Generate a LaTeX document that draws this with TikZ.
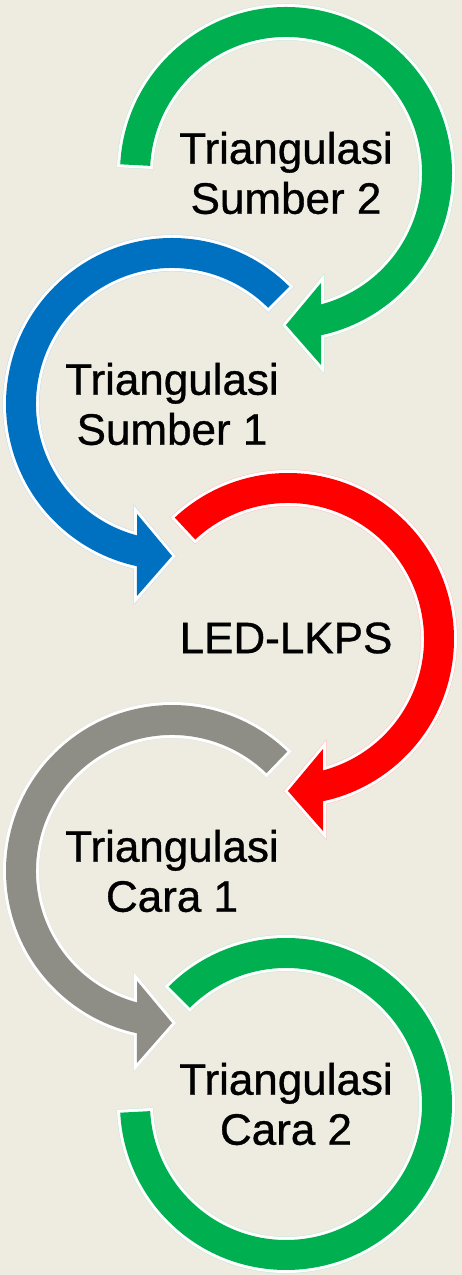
\documentclass[tikz,border=0pt]{standalone}
\usepackage{xcolor}
\usepackage{fontspec}
\setmainfont{Liberation Sans}
\newfontfamily\lblfont[FakeBold=0.8]{Liberation Sans}
\usepackage{tikz}
\definecolor{bgtan}{HTML}{EEECE1}
\definecolor{srcgreen}{HTML}{00B050}
\definecolor{srcblue}{HTML}{0070C0}
\definecolor{ledred}{HTML}{FF0000}
\definecolor{waygray}{HTML}{8E8E87}

\begin{document}
\begin{tikzpicture}[
  x=1pt, y=1pt,
  blockarc/.style={
    fill=#1,
    preaction={draw=#1!25, line width=7pt, line join=miter},
    preaction={draw=white, line width=6pt, line join=miter}},
  headarc/.style={
    insert path={
      (#1:\rout) arc[start angle=#1, end angle=-77.8, radius=\rout]
      -- (35,-192) -- (0,-152) -- (35,-110)
      -- (-75.1:\rin) arc[start angle=-75.1, end angle=#1, radius=\rin]
      -- cycle}},
  lbl/.style={
    align=center,
    inner sep=0pt,
    font=\lblfont\fontsize{44}{50}\selectfont},
]

  \def\rout{166}%
  \def\rin{136}%
  \def\colright{286}%
  \def\colleft{172}%

  \fill[bgtan] (0,0) rectangle (462,1275);
  \useasboundingbox (0,0) rectangle (462,1275);

  % centres of the rings, top to bottom
  \coordinate (ring1) at (\colright, 1102);
  \coordinate (ring2) at (\colleft, 871);
  \coordinate (ring3) at (\colright+2, 636);
  \coordinate (ring4) at (\colleft, 404);
  \coordinate (ring5) at (\colright, 171);

  \begin{scope}[shift={(ring1)}]
    \path[blockarc=srcgreen, headarc=177];
  \end{scope}
  \begin{scope}[shift={(ring2)}, xscale=-1]
    \path[blockarc=srcblue, headarc=135];
  \end{scope}
  \begin{scope}[shift={(ring3)}]
    \path[blockarc=ledred, headarc=133];
  \end{scope}
  \begin{scope}[shift={(ring4)}, xscale=-1]
    \path[blockarc=waygray, headarc=134];
  \end{scope}

  % last ring ends without a head
  \begin{scope}[shift={(ring5)}]
    \path[blockarc=srcgreen]
      (135:\rout) arc[start angle=135, end angle=-177, radius=\rout]
      -- (-177:\rin) arc[start angle=-177, end angle=135, radius=\rin]
      -- cycle;
  \end{scope}

  \node[lbl] (sumber2) at (ring1) {Triangulasi\\Sumber 2};
  \node[lbl] (sumber1) at (ring2) {Triangulasi\\Sumber 1};
  \node[lbl] (ledlkps) at (\colright, 637) {LED-LKPS};
  \node[lbl] (cara1) at (ring4) {Triangulasi\\Cara 1};
  \node[lbl] (cara2) at (ring5) {Triangulasi\\Cara 2};

\end{tikzpicture}
\end{document}
